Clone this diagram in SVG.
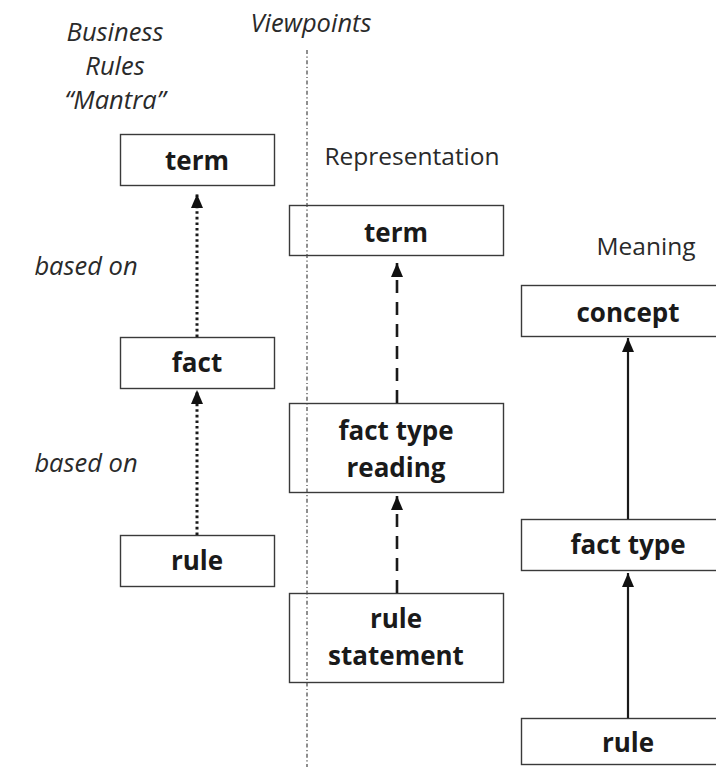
<svg xmlns="http://www.w3.org/2000/svg" width="716" height="767" viewBox="0 0 716 767">
  <style>
    .box { fill: none; stroke: #3a3a3a; stroke-width: 1.4; }
    .node { font-family: "Open Sans", "Noto Sans", sans-serif; font-weight: bold; font-size: 26px; fill: #1a1a1a; text-anchor: middle; }
    .head { font-family: "Open Sans", "Noto Sans", sans-serif; font-size: 24.5px; fill: #2a2a2a; text-anchor: middle; }
    .note { font-family: "Open Sans", "Noto Sans", sans-serif; font-style: italic; font-size: 25.5px; fill: #2a2a2a; text-anchor: middle; }
    .dotted { stroke: #1a1a1a; stroke-width: 3; stroke-dasharray: 2.6 3; fill: none; }
    .dashed { stroke: #1a1a1a; stroke-width: 2.6; stroke-dasharray: 13 9; fill: none; }
    .solid { stroke: #1a1a1a; stroke-width: 2.2; fill: none; }
    .divider { stroke: #444; stroke-width: 1.2; stroke-dasharray: 4 2.5 1.2 2.5; fill: none; }
  </style>
  <defs>
    <marker id="arrow" viewBox="0 0 14 12" refX="14" refY="6" markerWidth="14" markerHeight="12" markerUnits="userSpaceOnUse" orient="auto">
      <path d="M0 0 L14 6 L0 12 Z" fill="#111"/>
    </marker>
  </defs>

  <rect width="716" height="767" fill="#fff"/>

  <!-- column headings and edge notes -->
  <g id="headings">
    <text class="note" x="115" y="41">Business</text>
    <text class="note" x="115" y="75">Rules</text>
    <text class="note" x="115" y="109">“Mantra”</text>
    <text class="note" x="311" y="32">Viewpoints</text>
    <text class="head" x="412" y="165">Representation</text>
    <text class="head" x="646" y="255">Meaning</text>
    <text class="note" x="86" y="275">based on</text>
    <text class="note" x="86" y="472">based on</text>
  </g>

  <!-- mantra column -->
  <g id="mantra-term">
    <rect class="box" x="120.5" y="134.5" width="154" height="51"/>
    <text class="node" x="197" y="170">term</text>
  </g>
  <g id="mantra-fact">
    <rect class="box" x="120.5" y="337.5" width="154" height="51"/>
    <text class="node" x="197" y="372">fact</text>
  </g>
  <g id="mantra-rule">
    <rect class="box" x="120.5" y="535.5" width="154" height="51"/>
    <text class="node" x="197" y="570">rule</text>
  </g>

  <!-- representation column -->
  <g id="rep-term">
    <rect class="box" x="289.5" y="205.5" width="214" height="50"/>
    <text class="node" x="396" y="242">term</text>
  </g>
  <g id="rep-fact-type-reading">
    <rect class="box" x="289.5" y="403.5" width="214" height="89"/>
    <text class="node" x="396" y="440">fact type</text>
    <text class="node" x="396" y="477">reading</text>
  </g>
  <g id="rep-rule-statement">
    <rect class="box" x="289.5" y="593.5" width="214" height="89"/>
    <text class="node" x="396" y="628">rule</text>
    <text class="node" x="396" y="665">statement</text>
  </g>

  <!-- meaning column -->
  <g id="meaning-concept">
    <rect class="box" x="521.5" y="285.5" width="210" height="51"/>
    <text class="node" x="628" y="322">concept</text>
  </g>
  <g id="meaning-fact-type">
    <rect class="box" x="521.5" y="519.5" width="210" height="51"/>
    <text class="node" x="628" y="554">fact type</text>
  </g>
  <g id="meaning-rule">
    <rect class="box" x="521.5" y="718.5" width="210" height="46"/>
    <text class="node" x="628" y="752">rule</text>
  </g>

  <!-- connectors -->
  <g id="connectors">
    <line class="divider" x1="307" y1="50" x2="307" y2="767"/>
    <line class="dotted" x1="197" y1="337" x2="197" y2="194" marker-end="url(#arrow)"/>
    <line class="dotted" x1="197" y1="535" x2="197" y2="390" marker-end="url(#arrow)"/>
    <line class="dashed" x1="397" y1="403" x2="397" y2="263" marker-end="url(#arrow)"/>
    <line class="dashed" x1="397" y1="593" x2="397" y2="496" marker-end="url(#arrow)"/>
    <line class="solid" x1="628" y1="519" x2="628" y2="338" marker-end="url(#arrow)"/>
    <line class="solid" x1="628" y1="718" x2="628" y2="573" marker-end="url(#arrow)"/>
  </g>
</svg>
